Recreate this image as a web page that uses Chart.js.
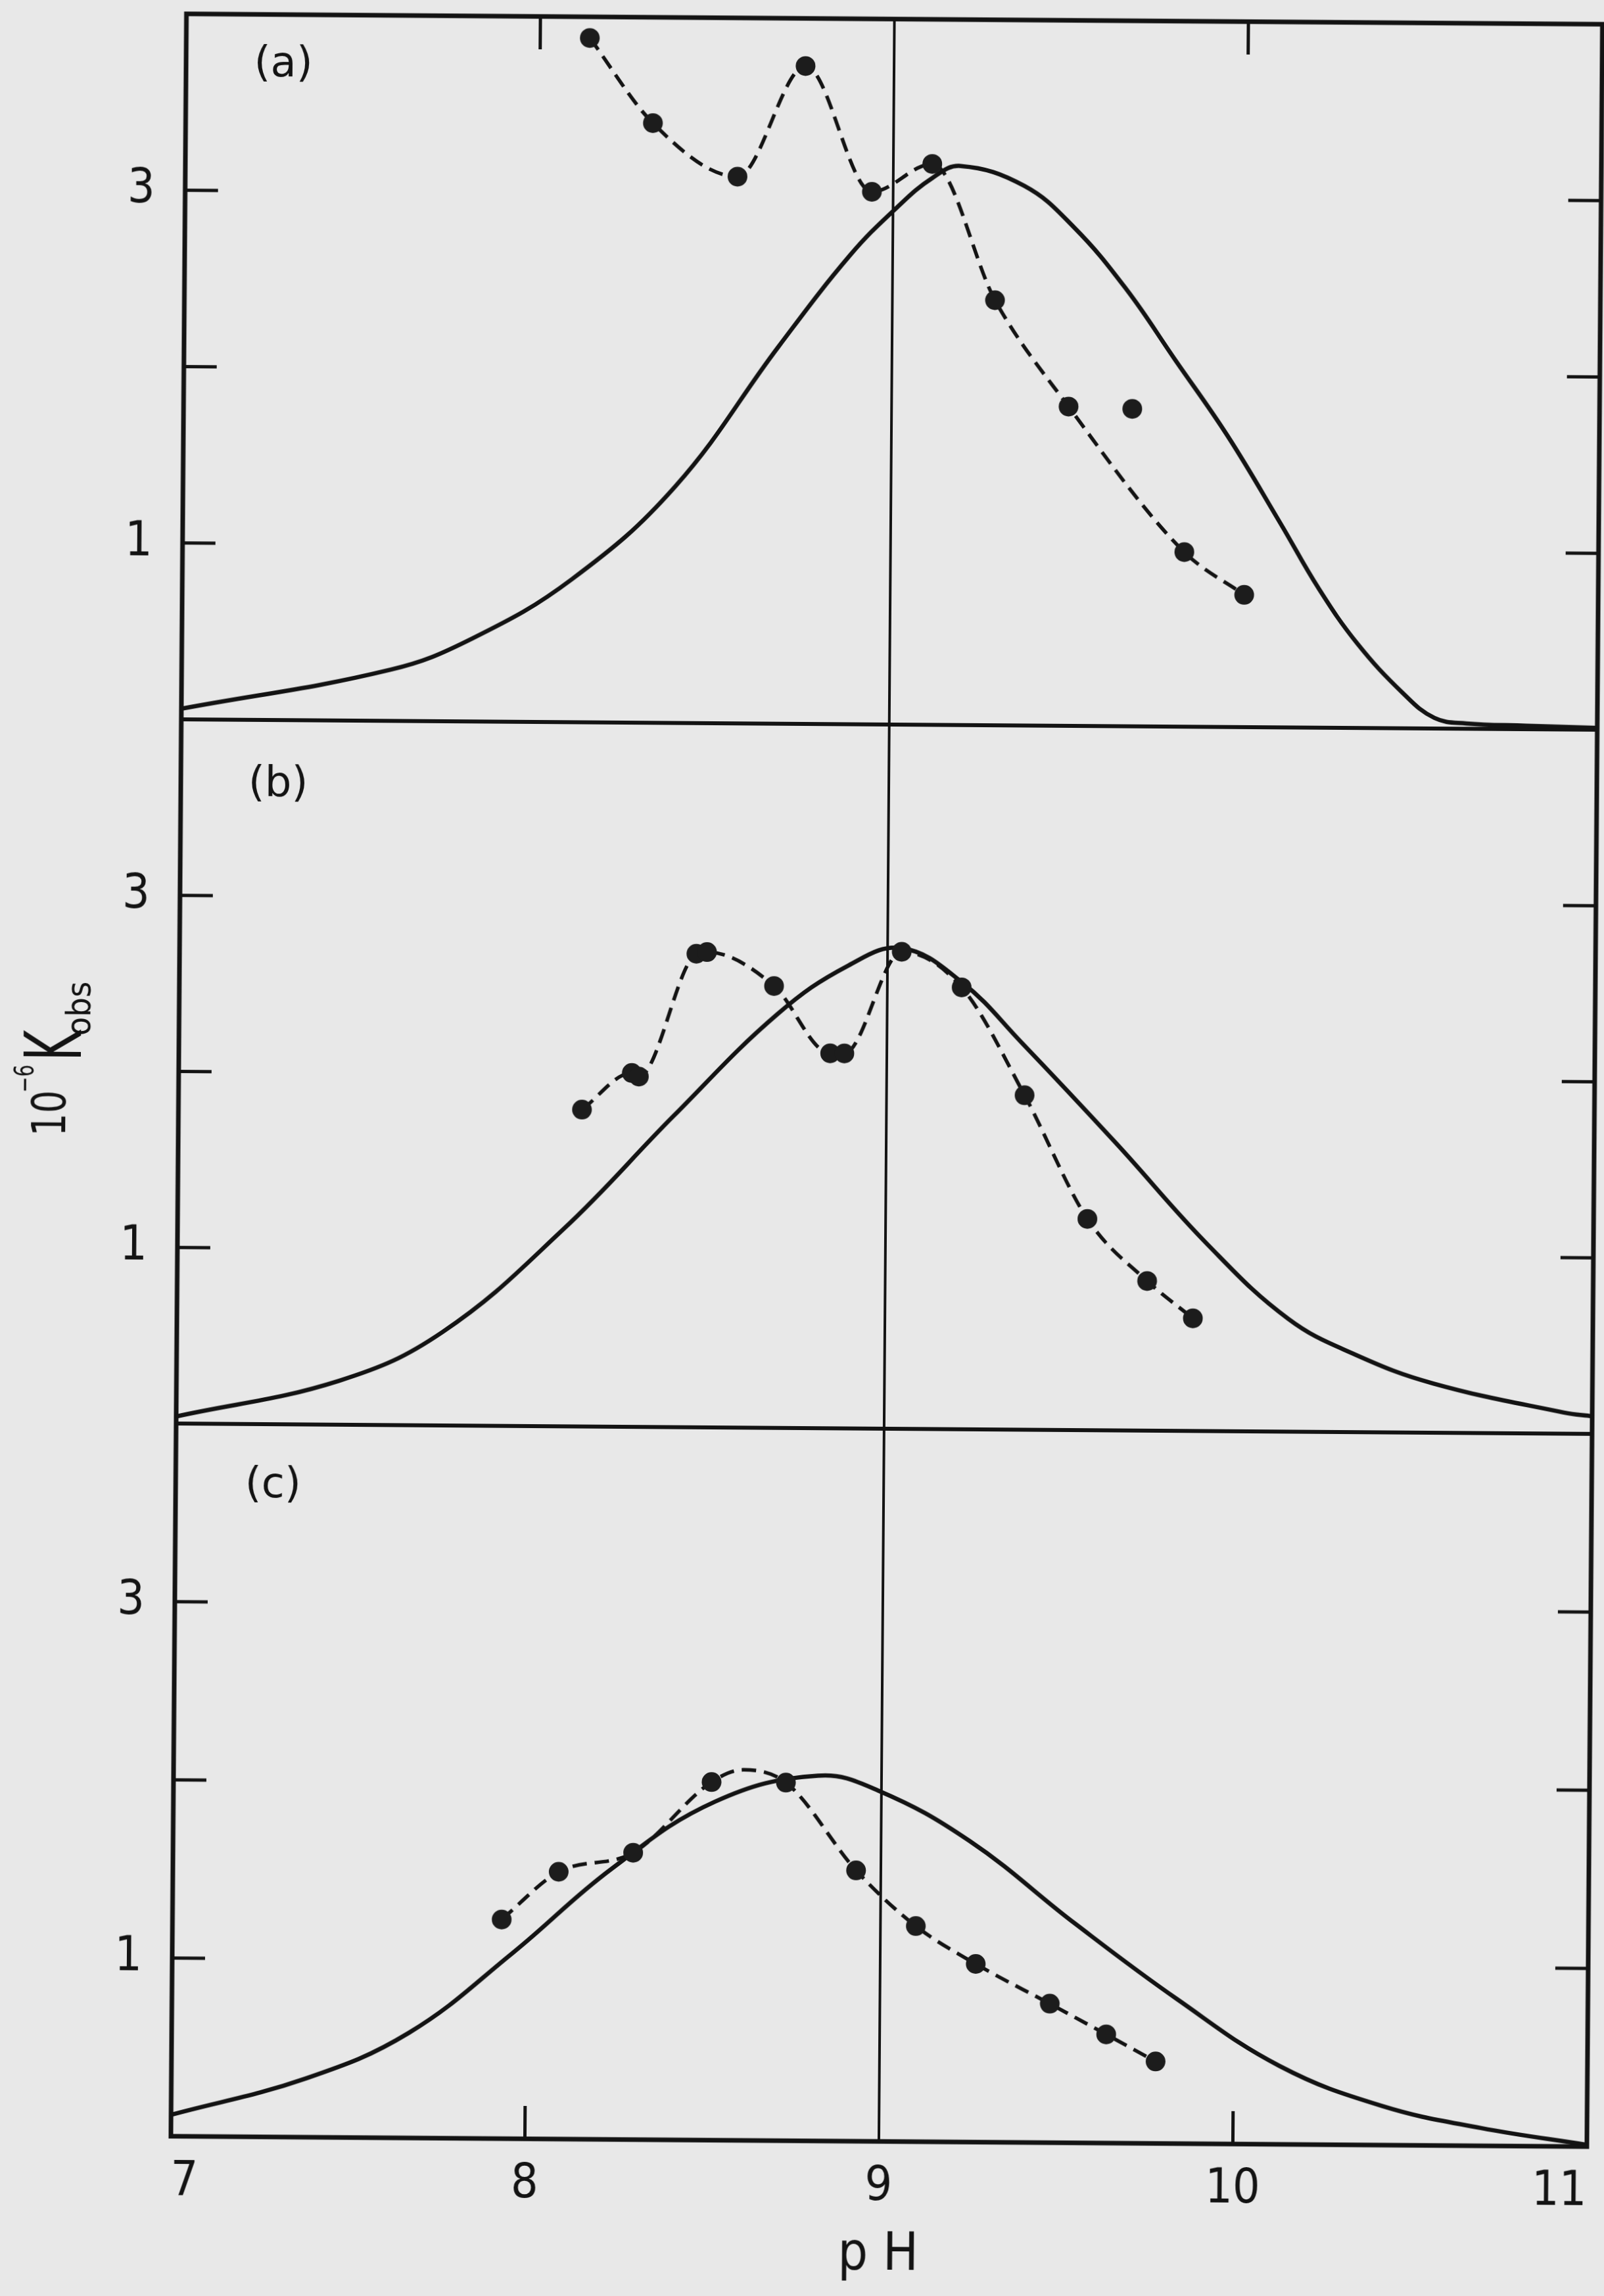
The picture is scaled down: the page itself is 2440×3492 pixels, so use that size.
<!doctype html>
<html lang="en">

<head>
  <meta charset="UTF-8" />
  <title>Kobs against pH</title>
  <script src="https://cdn.jsdelivr.net/npm/chart.js"></script>
  <style>
    html,
    body {
      margin: 0;
      padding: 0;
      background: #e8e8e8;
      overflow: hidden;
    }

    #sheet {
      width: 2440px;
      height: 3492px;
      transform: rotate(0.42deg);
      transform-origin: 50% 50%;
    }

    canvas {
      display: block;
    }
  </style>
</head>

<body>
  <div id="sheet"><canvas id="kobs" width="2440" height="3492"></canvas></div>

  <script>
    // axes
    const phTicks = [7, 8, 9, 10, 11];
    const phMarks = [8, 10];      // short marks on the top and bottom edge
    const kTicks = [0, 1, 2, 3, 4];
    const kMarks = [1, 2, 3];     // short marks on both sides of every panel
    const kLabels = [1, 3];

    // panel (a)
    const ptsA_ph = [8.14, 8.32, 8.56, 8.75, 8.94, 9.11, 9.29, 9.50, 9.68, 9.83, 10.00];
    const ptsA_k = [3.88, 3.40, 3.10, 3.73, 3.02, 3.18, 2.41, 1.81, 1.80, 0.99, 0.75];
    const guideA_ph = [8.14, 8.32, 8.56, 8.75, 8.94, 9.11, 9.29, 9.50, 9.83, 10.00];
    const guideA_k = [3.88, 3.40, 3.10, 3.73, 3.02, 3.18, 2.41, 1.81, 0.99, 0.75];
    const fitA_ph = [7.00, 7.59, 7.82, 8.10, 8.39, 8.68, 8.88, 9.01, 9.11, 9.19, 9.37, 9.51, 9.66, 9.80, 9.95, 10.10, 10.21, 10.32, 10.45, 10.54, 10.63, 10.80, 11.00];
    const fitA_k = [0.06, 0.29, 0.47, 0.81, 1.34, 2.14, 2.66, 2.93, 3.10, 3.17, 3.06, 2.83, 2.48, 2.08, 1.65, 1.16, 0.79, 0.48, 0.20, 0.06, 0.03, 0.02, 0.01];

    // panel (b)
    const ptsB_ph = [8.14, 8.28, 8.30, 8.46, 8.49, 8.68, 8.84, 8.88, 9.04, 9.21, 9.39, 9.57, 9.74, 9.87];
    const ptsB_k = [1.80, 2.01, 1.99, 2.69, 2.70, 2.51, 2.13, 2.13, 2.71, 2.51, 1.90, 1.20, 0.85, 0.64];
    const guideB_ph = ptsB_ph;
    const guideB_k = ptsB_k;
    const fitB_ph = [7.00, 7.46, 7.75, 8.09, 8.40, 8.69, 8.89, 9.04, 9.21, 9.38, 9.65, 9.91, 10.14, 10.33, 10.55, 10.92, 11.00];
    const fitB_k = [0.04, 0.25, 0.53, 1.12, 1.77, 2.35, 2.63, 2.73, 2.54, 2.20, 1.63, 1.06, 0.64, 0.44, 0.28, 0.12, 0.10];

    // panel (c)
    const ptsC_ph = [7.93, 8.09, 8.30, 8.52, 8.73, 8.93, 9.10, 9.27, 9.48, 9.64, 9.78];
    const ptsC_k = [1.23, 1.50, 1.61, 2.01, 2.01, 1.52, 1.21, 1.00, 0.78, 0.61, 0.46];
    const guideC_ph = [7.93, 8.09, 8.30, 8.52, 8.61, 8.73, 8.93, 9.10, 9.27, 9.48, 9.64, 9.78];
    const guideC_k = [1.23, 1.50, 1.61, 2.01, 2.08, 2.01, 1.52, 1.21, 1.00, 0.78, 0.61, 0.46];
    const fitC_ph = [7.00, 7.38, 7.67, 7.96, 8.24, 8.53, 8.82, 8.99, 9.25, 9.55, 9.84, 10.13, 10.42, 10.70, 11.00];
    const fitC_k = [0.12, 0.33, 0.59, 1.04, 1.52, 1.90, 2.05, 1.97, 1.69, 1.23, 0.81, 0.44, 0.22, 0.10, 0.01];

    const INK = "#131313";
    const DOT = "#1c1c1c";
    const FONT = "'Liberation Sans Narrow', 'DejaVu Sans Condensed', 'Liberation Sans', sans-serif";

    Chart.defaults.font.family = FONT;
    Chart.defaults.color = INK;

    const xy = (xs, ys) => xs.map((x, i) => ({ x: x, y: ys[i] }));

    function panel(axis, ptsX, ptsY, guideX, guideY, fitX, fitY) {
      return [
        {
          data: xy(ptsX, ptsY), yAxisID: axis, showLine: false, order: 0,
          pointRadius: 15, pointBackgroundColor: DOT, pointBorderWidth: 0,
        },
        {
          data: xy(guideX, guideY), yAxisID: axis, order: 1,
          borderColor: INK, borderWidth: 5.5, borderDash: [22, 12],
          pointRadius: 0, cubicInterpolationMode: "monotone",
        },
        {
          data: xy(fitX, fitY), yAxisID: axis, order: 2,
          borderColor: INK, borderWidth: 6.5, pointRadius: 0, tension: 0.4,
        },
      ];
    }

    // one y scale per panel, stacked on the left; first defined ends up at the bottom
    function kScale(weight) {
      return {
        type: "linear",
        position: "left",
        stack: "panels",
        stackWeight: weight,
        min: 0,
        max: 4,
        afterBuildTicks: (s) => { s.ticks = kTicks.map((v) => ({ value: v })); },
        afterFit: (s) => { s.width = 271; s.paddingTop = 0; s.paddingBottom = 0; },
        ticks: {
          padding: 46,
          font: { size: 73 },
          callback: (v) => (kLabels.includes(v) ? String(v) : ""),
        },
        grid: {
          drawTicks: false,
          lineWidth: 6,
          color: (c) => (c.tick && c.tick.value === 0 ? INK : "transparent"),
        },
        border: { display: false },
      };
    }

    const panelTags = [
      { axis: "yA", text: "(a)", ph: 7.275, k: 3.71 },
      { axis: "yB", text: "(b)", ph: 7.275, k: 3.63 },
      { axis: "yC", text: "(c)", ph: 7.275, k: 3.65 },
    ];

    // 10^-6 K_obs, built from pieces of different size
    const titleParts = [
      { text: "10", size: 72, rise: 23, squeeze: 0.85, gap: -4 },
      { text: "\u22126", size: 40, rise: 72, squeeze: 0.8, gap: 6 },
      { text: "K", size: 120, rise: 0, squeeze: 0.66, gap: -8 },
      { text: "obs", size: 52, rise: -14, squeeze: 1, gap: 0 },
    ];

    const framePlugin = {
      id: "frame",
      afterDraw(chart) {
        const { ctx, chartArea: a, scales } = chart;
        const mark = 50;
        ctx.save();
        ctx.strokeStyle = INK;
        ctx.fillStyle = INK;
        ctx.lineWidth = 7;
        ctx.strokeRect(a.left, a.top, a.right - a.left, a.bottom - a.top);

        ctx.lineWidth = 5;
        ctx.beginPath();
        for (const id of ["yA", "yB", "yC"]) {
          for (const v of kMarks) {
            const y = scales[id].getPixelForValue(v);
            ctx.moveTo(a.left, y);
            ctx.lineTo(a.left + mark, y);
            ctx.moveTo(a.right, y);
            ctx.lineTo(a.right - mark, y);
          }
        }
        for (const v of phMarks) {
          const x = scales.x.getPixelForValue(v);
          ctx.moveTo(x, a.top);
          ctx.lineTo(x, a.top + mark);
          ctx.moveTo(x, a.bottom);
          ctx.lineTo(x, a.bottom - mark);
        }
        ctx.stroke();

        ctx.font = "64px 'DejaVu Sans', sans-serif";
        ctx.textAlign = "center";
        ctx.textBaseline = "middle";
        for (const t of panelTags) {
          ctx.fillText(t.text, scales.x.getPixelForValue(t.ph), scales[t.axis].getPixelForValue(t.k));
        }

        ctx.textAlign = "left";
        ctx.textBaseline = "alphabetic";
        let total = 0;
        const widths = titleParts.map((p) => {
          ctx.font = p.size + "px " + FONT;
          const w = ctx.measureText(p.text).width * p.squeeze;
          total += w + p.gap;
          return w;
        });
        const mid = scales.yB.getPixelForValue(2) - 18;
        ctx.translate(a.left - 149, mid + total / 2);
        ctx.rotate(-Math.PI / 2);
        let u = 0;
        titleParts.forEach((p, i) => {
          ctx.save();
          ctx.font = p.size + "px " + FONT;
          ctx.translate(u, -p.rise);
          ctx.scale(p.squeeze, 1);
          ctx.fillText(p.text, 0, 0);
          ctx.restore();
          u += widths[i] + p.gap;
        });
        ctx.restore();
      },
    };

    new Chart(document.getElementById("kobs"), {
      type: "line",
      data: {
        datasets: [
          ...panel("yA", ptsA_ph, ptsA_k, guideA_ph, guideA_k, fitA_ph, fitA_k),
          ...panel("yB", ptsB_ph, ptsB_k, guideB_ph, guideB_k, fitB_ph, fitB_k),
          ...panel("yC", ptsC_ph, ptsC_k, guideC_ph, guideC_k, fitC_ph, fitC_k),
        ],
      },
      options: {
        responsive: false,
        animation: false,
        devicePixelRatio: 1,
        events: [],
        layout: { padding: { top: 28, right: 13, bottom: 0, left: 0 } },
        plugins: { legend: { display: false }, tooltip: { enabled: false } },
        scales: {
          x: {
            type: "linear",
            min: 7,
            max: 11,
            afterBuildTicks: (s) => { s.ticks = phTicks.map((v) => ({ value: v })); },
            afterFit: (s) => { s.height = 236; s.paddingLeft = 0; s.paddingRight = 0; },
            ticks: { align: "inner", padding: 26, maxRotation: 0, autoSkip: false, font: { size: 73 } },
            grid: {
              drawTicks: false,
              lineWidth: 4,
              color: (c) => (c.tick && c.tick.value === 9 ? INK : "transparent"),
            },
            border: { display: false },
            title: { display: true, text: "p H", font: { size: 80 }, padding: { top: 0, bottom: 14 } },
          },
          yC: kScale(1084),
          yB: kScale(1071),
          yA: kScale(1073),
        },
      },
      plugins: [framePlugin],
    });
  </script>
</body>

</html>
